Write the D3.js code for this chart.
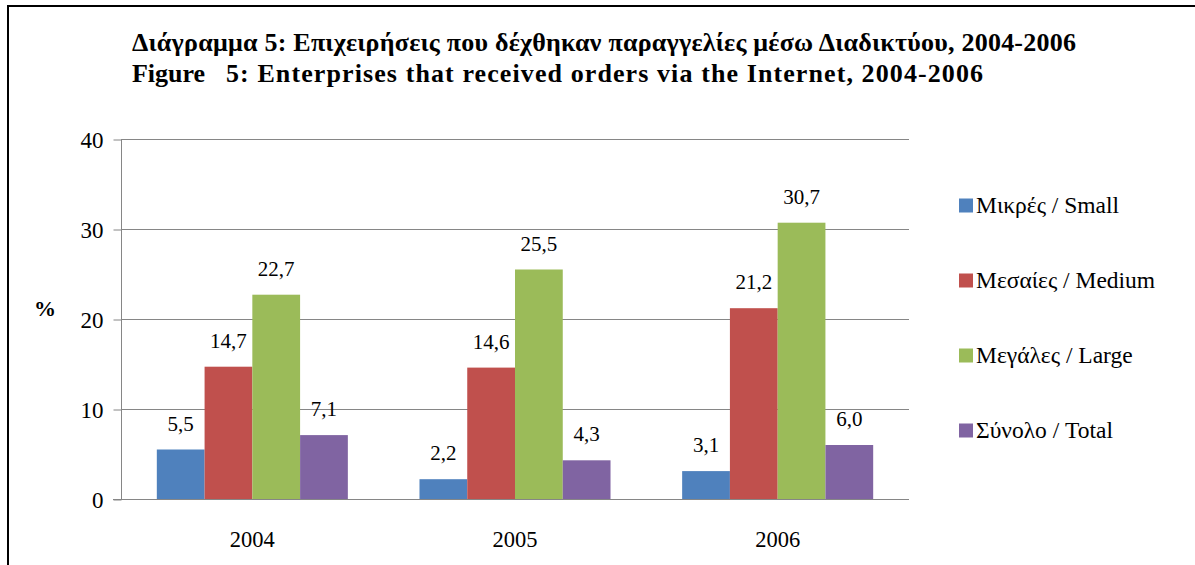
<!DOCTYPE html>
<html>
<head>
<meta charset="utf-8">
<script src="https://cdn.jsdelivr.net/npm/d3@7"></script>
<style>
  body { margin: 0; background: #fff; }
</style>
</head>
<body>
<div id="chart"></div>
<script>
// data
var years = ["2004", "2005", "2006"];
var seriesNames = ["Μικρές / Small", "Μεσαίες / Medium", "Μεγάλες / Large", "Σύνολο / Total"];
var small = [5.5, 2.2, 3.1];
var medium = [14.7, 14.6, 21.2];
var large = [22.7, 25.5, 30.7];
var total = [7.1, 4.3, 6.0];
var yTicks = [0, 10, 20, 30, 40];
var colors = ["#4F81BD", "#C0504D", "#9BBB59", "#8064A2"];

var allSeries = [small, medium, large, total];
var serif = "'Liberation Serif'";

var W = 1195, H = 565;
var svg = d3.select("#chart").append("svg")
    .attr("width", W)
    .attr("height", H);

// frame (only top and left visible in the picture)
svg.append("line").attr("x1", 7).attr("x2", W).attr("y1", 6).attr("y2", 6)
    .attr("stroke", "#000").attr("stroke-width", 2);
svg.append("line").attr("x1", 8).attr("x2", 8).attr("y1", 5).attr("y2", H)
    .attr("stroke", "#000").attr("stroke-width", 2);

// titles (spread out a little like the pdf text)
var title = svg.append("g")
    .style("font-weight", "bold")
    .style("font-size", "26px");
title.append("text").attr("x", 132).attr("y", 51)
    .attr("textLength", 944).attr("lengthAdjust", "spacing")
    .text("Διάγραμμα 5: Επιχειρήσεις που δέχθηκαν παραγγελίες μέσω Διαδικτύου, 2004-2006");
title.append("text").attr("x", 132).attr("y", 82)
    .attr("textLength", 73).attr("lengthAdjust", "spacing")
    .text("Figure");
title.append("text").attr("x", 226).attr("y", 82)
    .attr("textLength", 757).attr("lengthAdjust", "spacing")
    .text("5: Enterprises that received orders via the Internet, 2004-2006");

// scales
var x0 = d3.scaleBand().domain(years).range([121, 909]);
var x1 = d3.scaleBand().domain(d3.range(4)).range([0, x0.bandwidth()]).paddingOuter(0.75).paddingInner(0);
var y = d3.scaleLinear().domain([0, 40]).range([499, 139]);

// gridlines
svg.append("g").selectAll("line")
    .data(yTicks.slice(1))
    .enter().append("line")
    .attr("x1", 121).attr("x2", 909)
    .attr("y1", function(d) { return y(d) + 0.5; })
    .attr("y2", function(d) { return y(d) + 0.5; })
    .attr("stroke", "#868686").attr("stroke-width", 1);

// y axis
var yAxis = svg.append("g")
    .attr("transform", "translate(121.5,0.5)")
    .call(d3.axisLeft(y).tickValues(yTicks).tickSize(8).tickPadding(10).tickFormat(d3.format("d")));
yAxis.select(".domain").attr("stroke", "#868686").attr("d", "M0," + y(40) + "V" + y(0));
yAxis.selectAll(".tick line").attr("stroke", "#868686");
yAxis.selectAll(".tick text")
    .style("font-size", "23px").attr("fill", "#000").attr("dy", "0.35em");

// bars
var groups = svg.append("g").selectAll("g")
    .data(years)
    .enter().append("g")
    .attr("transform", function(d) { return "translate(" + x0(d) + ",0)"; });

groups.selectAll("rect")
    .data(function(d, i) { return allSeries.map(function(s, k) { return {k: k, v: s[i]}; }); })
    .enter().append("rect")
    .attr("x", function(d) { return x1(d.k); })
    .attr("width", x1.bandwidth())
    .attr("y", function(d) { return y(d.v); })
    .attr("height", function(d) { return y(0) - y(d.v); })
    .attr("fill", function(d) { return colors[d.k]; });

groups.selectAll("text")
    .data(function(d, i) { return allSeries.map(function(s, k) { return {k: k, v: s[i]}; }); })
    .enter().append("text")
    .attr("x", function(d) { return x1(d.k) + x1.bandwidth() / 2; })
    .attr("y", function(d) { return y(d.v) - 19; })
    .attr("text-anchor", "middle")
    .style("font-size", "21px")
    .text(function(d) { return d3.format(".1f")(d.v).replace(".", ","); });

// x axis line (baseline)
svg.append("line").attr("x1", 113).attr("x2", 909)
    .attr("y1", y(0) + 0.5).attr("y2", y(0) + 0.5)
    .attr("stroke", "#868686");

// category labels
svg.append("g").selectAll("text")
    .data(years)
    .enter().append("text")
    .attr("x", function(d) { return x0(d) + x0.bandwidth() / 2; })
    .attr("y", 547)
    .attr("text-anchor", "middle")
    .style("font-size", "22.5px")
    .text(function(d) { return d; });

// % label
svg.append("text").attr("x", 45).attr("y", 316)
    .attr("text-anchor", "middle")
    .style("font-weight", "bold").style("font-size", "22px")
    .text("%");

// legend
var legend = svg.append("g").selectAll("g")
    .data(seriesNames)
    .enter().append("g")
    .attr("transform", function(d, i) { return "translate(959," + (205.5 + i * 75) + ")"; });
legend.append("rect").attr("x", 0).attr("y", -7).attr("width", 14).attr("height", 14)
    .attr("fill", function(d, i) { return colors[i]; });
legend.append("text").attr("x", 17).attr("y", 7.5)
    .style("font-size", "23.5px")
    .text(function(d) { return d; });

// every label in the serif face
svg.selectAll("text").style("font-family", serif);
</script>
</body>
</html>
